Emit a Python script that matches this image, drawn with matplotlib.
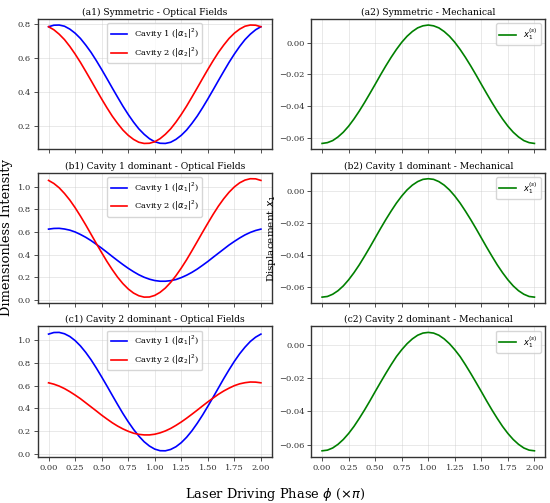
import matplotlib
matplotlib.use("Agg")
import matplotlib.pyplot as plt
import numpy as np

phi = [round(0.05 * i, 2) for i in range(41)]

# (a) symmetric
a1_cav1 = [0.784, 0.793, 0.794, 0.787, 0.770, 0.746, 0.715, 0.676, 0.633, 0.584,
           0.532, 0.478, 0.423, 0.369, 0.316, 0.267, 0.222, 0.182, 0.150, 0.124,
           0.106, 0.097, 0.096, 0.103, 0.120, 0.144, 0.175, 0.214, 0.257, 0.306,
           0.358, 0.412, 0.467, 0.521, 0.574, 0.623, 0.668, 0.708, 0.740, 0.766, 0.784]
a1_cav2 = a1_cav1[::-1]

# small-amplitude and large-amplitude optical curves
b1_cav1 = [0.625, 0.631, 0.632, 0.626, 0.616, 0.600, 0.578, 0.553, 0.524, 0.491,
           0.457, 0.421, 0.384, 0.348, 0.313, 0.280, 0.250, 0.223, 0.201, 0.184,
           0.172, 0.166, 0.166, 0.171, 0.181, 0.198, 0.219, 0.244, 0.273, 0.306,
           0.340, 0.377, 0.413, 0.449, 0.485, 0.517, 0.547, 0.574, 0.596, 0.613, 0.625]
c1_cav1 = [1.054, 1.068, 1.069, 1.057, 1.033, 0.997, 0.950, 0.893, 0.828, 0.755,
           0.677, 0.597, 0.515, 0.434, 0.355, 0.282, 0.215, 0.156, 0.106, 0.068,
           0.041, 0.027, 0.026, 0.038, 0.062, 0.098, 0.145, 0.202, 0.268, 0.340,
           0.418, 0.498, 0.580, 0.662, 0.740, 0.814, 0.881, 0.939, 0.989, 1.027, 1.054]
b1_cav2 = c1_cav1[::-1]
c1_cav2 = b1_cav1[::-1]

a2_half = [-0.0636, -0.0631, -0.0618, -0.0595, -0.0565, -0.0527, -0.0482, -0.0432,
           -0.0378, -0.0321, -0.0263, -0.0204, -0.0147, -0.0093, -0.0043, 0.0002,
           0.0040, 0.0070, 0.0093, 0.0106, 0.0111]
b2_half = [-0.0662, -0.0658, -0.0644, -0.0622, -0.0592, -0.0554, -0.0510, -0.0461,
           -0.0407, -0.0351, -0.0293, -0.0235, -0.0179, -0.0126, -0.0076, -0.0032,
           0.0006, 0.0036, 0.0058, 0.0072, 0.0076]
c2_half = [-0.0636, -0.0632, -0.0619, -0.0597, -0.0568, -0.0532, -0.0490, -0.0442,
           -0.0391, -0.0337, -0.0281, -0.0226, -0.0172, -0.0120, -0.0071, -0.0030,
           0.0006, 0.0035, 0.0057, 0.0070, 0.0074]
a2_x1 = a2_half + a2_half[-2::-1]
b2_x1 = b2_half + b2_half[-2::-1]
c2_x1 = c2_half + c2_half[-2::-1]

opt_titles = ["(a1) Symmetric - Optical Fields",
              "(b1) Cavity 1 dominant - Optical Fields",
              "(c1) Cavity 2 dominant - Optical Fields"]
mech_titles = ["(a2) Symmetric - Mechanical",
               "(b2) Cavity 1 dominant - Mechanical",
               "(c2) Cavity 2 dominant - Mechanical"]
xticks = [0.00, 0.25, 0.50, 0.75, 1.00, 1.25, 1.50, 1.75, 2.00]

plt.rcParams['font.family'] = ['DejaVu Serif']
plt.rcParams['font.size'] = 6

fig, axes = plt.subplots(3, 2, figsize=(5.5, 5.03), dpi=100, sharex=True)
fig.subplots_adjust(left=0.069, right=0.991, top=0.962, bottom=0.092,
                    wspace=0.171, hspace=0.18)

opt = [(a1_cav1, a1_cav2), (b1_cav1, b1_cav2), (c1_cav1, c1_cav2)]
mech = [a2_x1, b2_x1, c2_x1]

for i in range(3):
    ax = axes[i, 0]
    ax.plot(phi, opt[i][0], color='blue', lw=1.2, label=r'Cavity 1 ($|\alpha_1|^2$)')
    ax.plot(phi, opt[i][1], color='red', lw=1.2, label=r'Cavity 2 ($|\alpha_2|^2$)')
    ax.set_title(opt_titles[i], fontsize=6.6, pad=3)
    ax.legend(loc='upper center', fontsize=6, framealpha=0.8)
    ax2 = axes[i, 1]
    ax2.plot(phi, mech[i], color='green', lw=1.2, label=r'$x_1^{(s)}$')
    ax2.set_title(mech_titles[i], fontsize=6.6, pad=3)
    ax2.legend(loc='upper right', fontsize=6, framealpha=0.8)

axes[1, 1].set_ylabel(r'Displacement $x_1$', fontsize=7.5, labelpad=1)

for ax in axes.flat:
    ax.set_xticks(xticks)
    ax.grid(True, color='#cccccc', alpha=0.6, lw=0.5)
    ax.tick_params(labelsize=6, length=3, width=0.6, pad=2, colors='#333333')
    for s in ax.spines.values():
        s.set_color('#333333')
        s.set_linewidth(1.0)
for ax in axes[2]:
    ax.set_xticklabels([f"{t:.2f}" for t in xticks])

fig.supxlabel(r'Laser Driving Phase $\phi$ ($\times\pi$)', fontsize=9.4, y=0.0, va='bottom')
fig.supylabel('Dimensionless Intensity', fontsize=9.4, x=0.0, y=0.527, ha='left')

fig.savefig('out.png', dpi=100)
